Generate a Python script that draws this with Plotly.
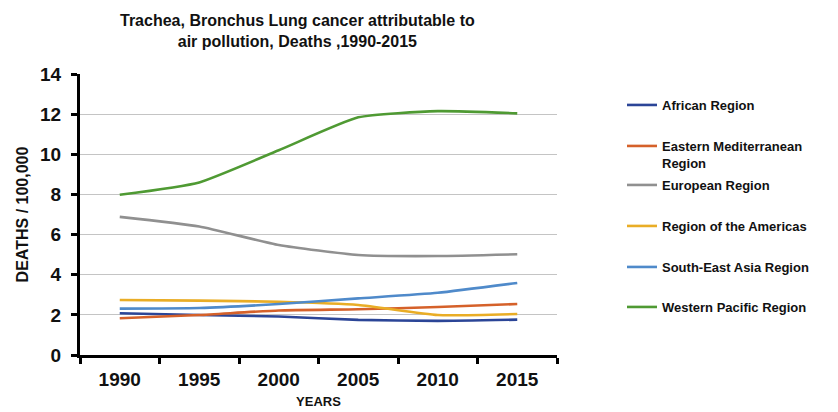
import plotly.graph_objects as go

# Trachea, bronchus and lung cancer deaths attributable to air pollution (per 100,000)
years = ["1990", "1995", "2000", "2005", "2010", "2015"]

african = [2.08, 1.99, 1.92, 1.75, 1.70, 1.76]
eastern_med = [1.83, 1.99, 2.22, 2.28, 2.39, 2.54]
european = [6.88, 6.40, 5.48, 4.98, 4.93, 5.02]
americas = [2.74, 2.71, 2.65, 2.49, 1.99, 2.04]
south_east_asia = [2.31, 2.34, 2.54, 2.82, 3.10, 3.59]
western_pacific = [7.98, 8.60, 10.20, 11.84, 12.15, 12.04]

series = [
    ("African Region", african, "#2B4597"),
    ("Eastern Mediterranean<br>Region", eastern_med, "#D5612A"),
    ("European Region", european, "#909090"),
    ("Region of the Americas", americas, "#E9AD26"),
    ("South-East Asia Region", south_east_asia, "#4F8ACA"),
    ("Western Pacific Region", western_pacific, "#4F9A33"),
]

# vertical pixel position of each legend entry's key line
legend_rows = [105, 146, 185, 226, 267, 307]

FONT = "Liberation Sans, Arial, sans-serif"
INK = "#111111"

fig = go.Figure()
legend_layouts = {}
for i, (name, vals, color) in enumerate(series):
    key = "legend" if i == 0 else f"legend{i + 1}"
    fig.add_trace(go.Scatter(
        x=years, y=vals, name=name, mode="lines",
        line=dict(color=color, width=2.6, shape="spline", smoothing=0.5),
        legend=key, showlegend=True,
    ))
    legend_layouts[key] = dict(
        xref="container", yref="container",
        x=622 / 838, xanchor="left",
        y=1 - (legend_rows[i] - 15) / 412, yanchor="top",
        font=dict(family=FONT, size=13, weight="bold", color=INK),
        valign="top",
        bgcolor="rgba(0,0,0,0)",
    )

fig.update_layout(
    width=838, height=412,
    margin=dict(l=80, r=281, t=74, b=57, autoexpand=False),
    paper_bgcolor="white", plot_bgcolor="white",
    font=dict(family=FONT, color=INK),
    xaxis=dict(
        type="category", tickson="boundaries", range=[-0.5, 5.5],
        ticks="outside", ticklen=6, tickwidth=3, tickcolor="black",
        showline=True, linecolor="black", linewidth=3,
        showgrid=False, automargin=False,
        tickfont=dict(family=FONT, size=19, weight="bold", color=INK),
        ticklabelstandoff=5,
        title=dict(text="YEARS", font=dict(family=FONT, size=13, weight="bold", color=INK),
                   standoff=9),
    ),
    yaxis=dict(
        range=[0, 14], dtick=2, tick0=0,
        ticks="outside", ticklen=6, tickwidth=3, tickcolor="black",
        showline=True, linecolor="black", linewidth=3,
        showgrid=True, gridcolor="#C4C4C4", gridwidth=1,
        zeroline=False, automargin=False,
        tickfont=dict(family=FONT, size=19, weight="bold", color=INK),
        ticklabelstandoff=6,
        title=dict(text="DEATHS / 100,000", font=dict(family=FONT, size=16, weight="bold", color=INK),
                   standoff=8),
    ),
    annotations=[dict(
        text="Trachea, Bronchus Lung cancer attributable to<br>air pollution, Deaths ,1990-2015",
        font=dict(family=FONT, size=16, weight="bold", color=INK),
        xref="paper", yref="paper",
        x=(297 - 80) / 477, xanchor="center",
        y=(355 - 10) / 281, yanchor="top",
        showarrow=False, align="center",
    )],
    **legend_layouts,
)

fig.write_html("out.html")
